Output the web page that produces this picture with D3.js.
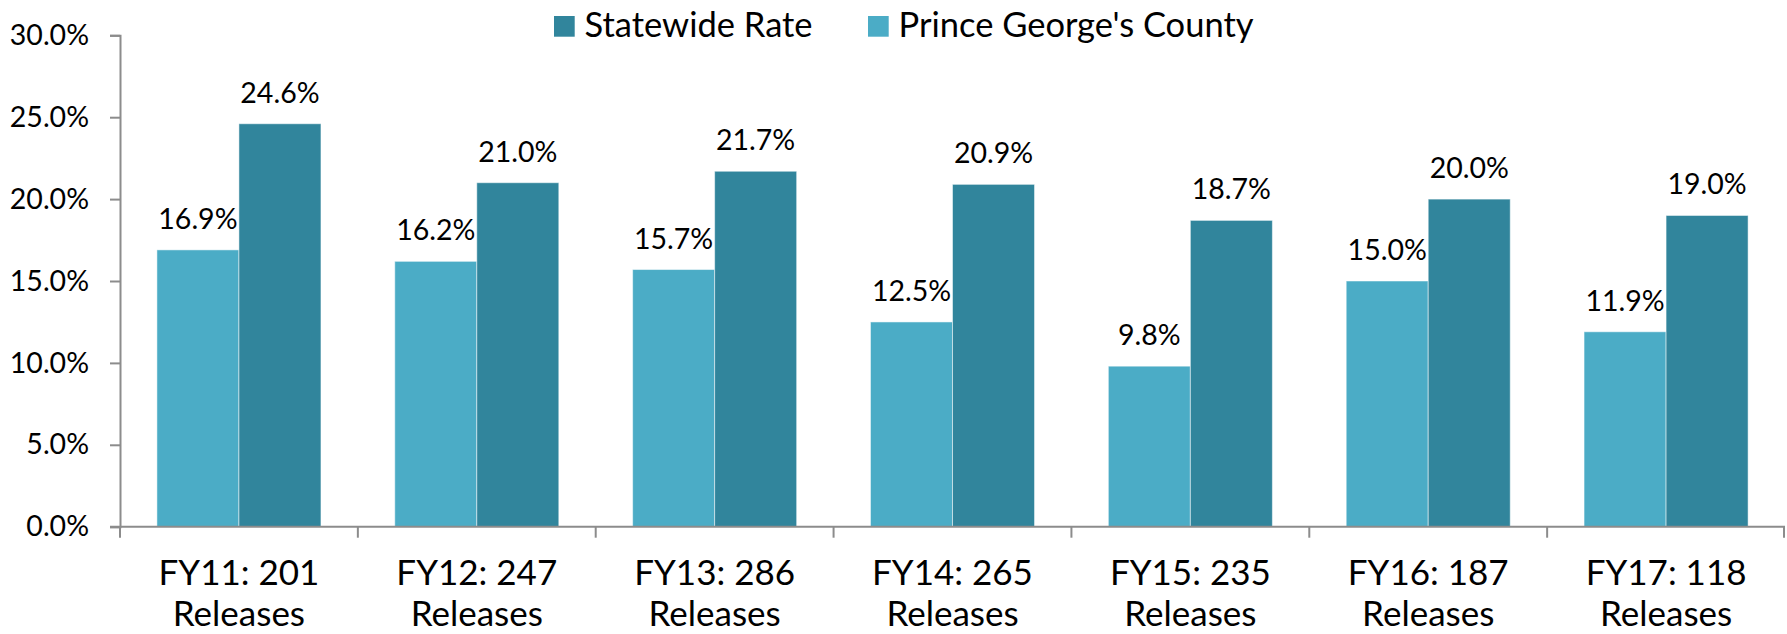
<!DOCTYPE html>
<html>
<head>
<meta charset="utf-8">
<script src="https://cdn.jsdelivr.net/npm/d3@7"></script>
<style>
  body { margin: 0; background: #fff; }
  text { font-family: Lato, "Open Sans", sans-serif; fill: #000; }
</style>
</head>
<body>
<div id="chart"></div>
<script>
// data
var categories = ["FY11: 201 Releases", "FY12: 247 Releases", "FY13: 286 Releases",
                  "FY14: 265 Releases", "FY15: 235 Releases", "FY16: 187 Releases",
                  "FY17: 118 Releases"];
var countyRate = [16.9, 16.2, 15.7, 12.5, 9.8, 15.0, 11.9];
var statewideRate = [24.6, 21.0, 21.7, 20.9, 18.7, 20.0, 19.0];
var seriesNames = ["Prince George's County", "Statewide Rate"];
var legendOrder = ["Statewide Rate", "Prince George's County"];
var yTicks = [0, 5, 10, 15, 20, 25, 30];

var width = 1787, height = 634;
var margin = {top: 35.3, right: 2, bottom: 107.3, left: 120};

var colors = d3.scaleOrdinal()
    .domain(seriesNames)
    .range(["#4BACC6", "#31859C"]);

var svg = d3.select("#chart").append("svg")
    .attr("width", width)
    .attr("height", height);

var x0 = d3.scaleBand()
    .domain(categories)
    .range([margin.left, width - margin.right])
    .paddingInner(0)
    .paddingOuter(0);

var x1 = d3.scaleBand()
    .domain(seriesNames)
    .range([0, x0.bandwidth()])
    .paddingInner(0)
    .paddingOuter(0.45);

var y = d3.scaleLinear()
    .domain([0, 30])
    .range([height - margin.bottom, margin.top]);

var rows = categories.map(function(c, i) {
  return {cat: c, values: [
    {name: seriesNames[0], v: countyRate[i]},
    {name: seriesNames[1], v: statewideRate[i]}
  ]};
});

// y axis
var yAxis = svg.append("g")
    .attr("transform", "translate(" + margin.left + ",0)")
    .call(d3.axisLeft(y).tickValues(yTicks)
      .tickFormat(function(d) { return d.toFixed(1) + "%"; })
      .tickSize(10).tickPadding(21));
yAxis.select(".domain").attr("stroke", "#8c8c8c").attr("stroke-width", 2);
yAxis.selectAll(".tick line").attr("stroke", "#8c8c8c").attr("stroke-width", 2);
yAxis.selectAll(".tick text")
    .style("font-family", "Lato, sans-serif")
    .style("font-size", "28.5px")
    .attr("fill", "#000");

// bars
var groups = svg.selectAll(".cat")
    .data(rows)
    .enter().append("g")
    .attr("class", "cat")
    .attr("transform", function(d) { return "translate(" + x0(d.cat) + ",0)"; });

groups.selectAll("rect")
    .data(function(d) { return d.values; })
    .enter().append("rect")
    .attr("x", function(d) { return x1(d.name); })
    .attr("y", function(d) { return y(d.v); })
    .attr("width", x1.bandwidth())
    .attr("height", function(d) { return y(0) - y(d.v); })
    .attr("fill", function(d) { return colors(d.name); })
    .attr("stroke", "#ffffff")
    .attr("stroke-opacity", 0.5)
    .attr("stroke-width", 1);

groups.selectAll(".lbl")
    .data(function(d) { return d.values; })
    .enter().append("text")
    .attr("class", "lbl")
    .attr("x", function(d) { return x1(d.name) + x1.bandwidth() / 2; })
    .attr("y", function(d) { return y(d.v) - 21; })
    .attr("text-anchor", "middle")
    .style("font-size", "28.5px")
    .text(function(d) { return d.v.toFixed(1) + "%"; });

// x axis
var xAxis = svg.append("g")
    .attr("transform", "translate(0," + y(0) + ")");
xAxis.append("line")
    .attr("x1", margin.left - 10).attr("x2", width - margin.right)
    .attr("stroke", "#8c8c8c").attr("stroke-width", 2);
xAxis.selectAll(".xt")
    .data(categories.concat(["end"]))
    .enter().append("line")
    .attr("class", "xt")
    .attr("x1", function(d, i) { return i < categories.length ? x0(d) : x0.range()[1] - 1; })
    .attr("x2", function(d, i) { return i < categories.length ? x0(d) : x0.range()[1] - 1; })
    .attr("y1", 0).attr("y2", 11)
    .attr("stroke", "#8c8c8c").attr("stroke-width", 2);

var xl = xAxis.selectAll(".xl")
    .data(categories)
    .enter().append("text")
    .attr("class", "xl")
    .attr("text-anchor", "middle")
    .style("font-size", "35px")
    .attr("transform", function(d) { return "translate(" + (x0(d) + x0.bandwidth() / 2) + ",0)"; });
xl.append("tspan").attr("x", 0).attr("y", 58.5)
    .text(function(d) { return d.split(" Releases")[0]; });
xl.append("tspan").attr("x", 0).attr("y", 99)
    .text("Releases");

// legend
var legendX = [554, 868];
var legend = svg.selectAll(".leg")
    .data(legendOrder)
    .enter().append("g")
    .attr("class", "leg")
    .attr("transform", function(d, i) { return "translate(" + legendX[i] + ",0)"; });
legend.append("rect")
    .attr("x", 0).attr("y", 16)
    .attr("width", 20.7).attr("height", 20.7)
    .attr("fill", function(d) { return colors(d); });
legend.append("text")
    .attr("x", 30.5).attr("y", 36.7)
    .style("font-size", "34.5px")
    .text(function(d) { return d; });
</script>
</body>
</html>
